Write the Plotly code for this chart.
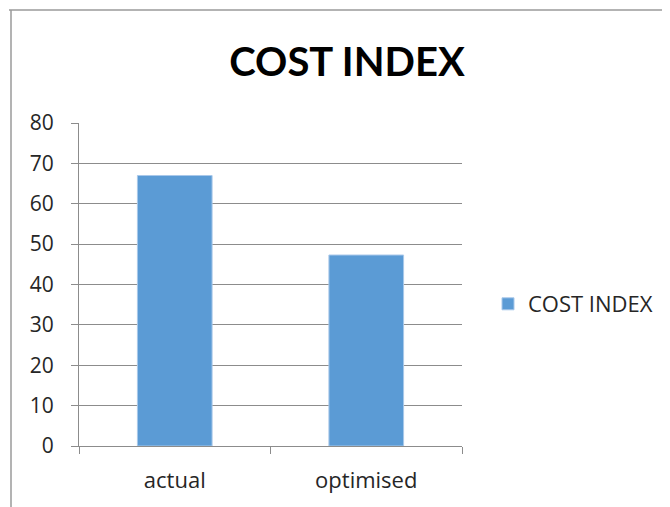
import plotly.graph_objects as go

categories = ["actual", "optimised"]
values = [67, 47.3]
series_name = "COST INDEX"
y_ticks = [0, 10, 20, 30, 40, 50, 60, 70, 80]

# page is offset by the 8px body margin
OFF = 8
W, H = 670 - OFF, 507 - OFF
L, T = 79 - OFF, 123 - OFF
R = W - (462 - OFF)
B = H - (446 - OFF)
pw, ph = W - L - R, H - T - B

def px_x(page_x):
    return (page_x - OFF - L) / pw

def px_y(page_y):
    return (H - B - (page_y - OFF)) / ph

fig = go.Figure(go.Bar(
    x=categories, y=values, name=series_name,
    marker=dict(color="#5B9BD5", line=dict(color="#A9C8EA", width=1)),
    showlegend=True,
))

grid = "#8C8C8C"
txt = "#262626"
fnt = "Open Sans, Lato, sans-serif"
fig.update_layout(
    width=W, height=H,
    margin=dict(l=L, r=R, t=T, b=B),
    paper_bgcolor="white", plot_bgcolor="white",
    bargap=0.61,
    font=dict(family=fnt, color=txt),
    title=dict(text="<b>COST INDEX</b>", font=dict(size=40, color="black", family="Lato"),
               x=(347 - OFF) / W, xanchor="center", y=1 - (62 - OFF) / H, yanchor="middle"),
    legend=dict(x=px_x(488), y=px_y(304), xanchor="left", yanchor="middle",
                font=dict(size=22, color=txt, family=fnt), itemwidth=30,
                bgcolor="rgba(0,0,0,0)"),
    xaxis=dict(showgrid=False, showline=True, linecolor=grid, linewidth=1,
               ticks="outside", tickson="boundaries", ticklen=7, tickcolor=grid,
               ticklabelstandoff=15,
               tickfont=dict(size=22, color=txt, family=fnt)),
    yaxis=dict(range=[0, 80], tickvals=y_ticks, showgrid=True, gridcolor=grid, gridwidth=1,
               showline=True, linecolor=grid, linewidth=1, zeroline=False,
               ticks="outside", ticklen=7, tickcolor=grid,
               ticklabelstandoff=13,
               tickfont=dict(size=21, color=txt, family=fnt)),
    shapes=[
        dict(type="line", xref="paper", yref="paper",
             x0=px_x(9), x1=px_x(680), y0=px_y(10), y1=px_y(10),
             line=dict(color="#9A9A9A", width=1.5)),
        dict(type="line", xref="paper", yref="paper",
             x0=px_x(11), x1=px_x(11), y0=px_y(10), y1=px_y(520),
             line=dict(color="#9A9A9A", width=1.5)),
    ],
)

fig.write_html("out.html")
